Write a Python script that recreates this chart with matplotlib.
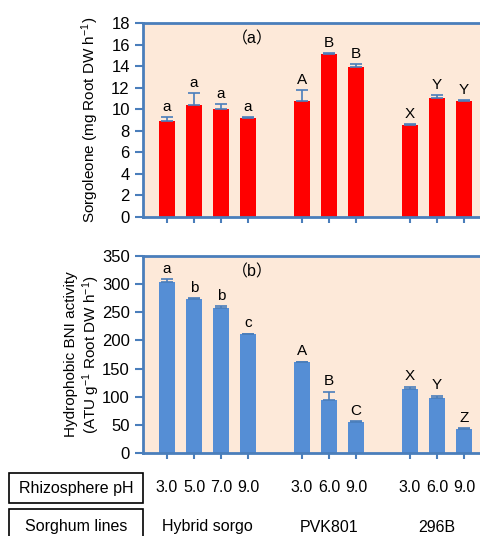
import matplotlib
matplotlib.use("Agg")
import matplotlib.pyplot as plt
import matplotlib.transforms as mtransforms
from matplotlib.patches import Rectangle

plt.rcParams['font.family'] = ['Liberation Sans', 'Noto Sans CJK JP', 'DejaVu Sans']
plt.rcParams['mathtext.fontset'] = 'custom'
plt.rcParams['mathtext.rm'] = 'Liberation Sans'
plt.rcParams['mathtext.default'] = 'regular'

# ---- data ----
positions = [0, 1, 2, 3, 5, 6, 7, 9, 10, 11]
ph_labels = ["3.0", "5.0", "7.0", "9.0", "3.0", "6.0", "9.0", "3.0", "6.0", "9.0"]
groups = ["Hybrid sorgo", "PVK801", "296B"]
group_members = [[0, 1, 2, 3], [5, 6, 7], [9, 10, 11]]

sorgoleone = [8.9, 10.4, 10.0, 9.2, 10.75, 15.1, 13.9, 8.5, 11.0, 10.75]
sorgoleone_err = [0.4, 1.1, 0.45, 0.1, 1.0, 0.1, 0.25, 0.1, 0.3, 0.1]
sorgoleone_letters = ["a", "a", "a", "a", "A", "B", "B", "X", "Y", "Y"]

bni = [303, 273, 258, 211, 161, 94, 55, 113, 97, 42]
bni_err = [6, 2, 3, 1, 1, 15, 2, 5, 5, 2]
bni_letters = ["a", "b", "b", "c", "A", "B", "C", "X", "Y", "Z"]

W, H = 481, 536
fig = plt.figure(figsize=(W / 100, H / 100), dpi=100)

spine_col = "#4a7ebb"
bg = "#fde9d9"

def make_ax(bottom_px, top_px, vals, errs, letters, color, ymax, ystep, label, tag, tag_y, letter_off):
    ax = fig.add_axes([143 / W, 1 - bottom_px / H, 1 - 143 / W, (bottom_px - top_px) / H])
    ax.set_facecolor(bg)
    ax.bar(positions, vals, width=0.6, color=color, zorder=2)
    ax.errorbar(positions, vals, yerr=[[0] * len(errs), errs], fmt="none",
                ecolor=spine_col, elinewidth=1.2, capsize=4, capthick=1.2, zorder=3)
    for x, v, e, l in zip(positions, vals, errs, letters):
        ax.text(x, v + e + letter_off, l, ha="center", va="bottom", fontsize=11)
    ax.set_xlim(-0.89, 11.63)
    ax.set_ylim(0, ymax)
    ax.set_yticks(range(0, ymax + 1, ystep))
    ax.set_xticks(positions)
    ax.set_xticklabels([])
    for s in ["top", "left", "bottom"]:
        ax.spines[s].set_color(spine_col)
        ax.spines[s].set_linewidth(2)
    ax.spines["right"].set_visible(False)
    ax.tick_params(axis="y", colors=spine_col, labelcolor="black", labelsize=12, length=6, width=1.5)
    ax.tick_params(axis="x", colors=spine_col, length=4, width=1.5)
    ax.set_ylabel(label, fontsize=11, linespacing=1.15)
    ax.text(3.15, tag_y, "（" + tag + "）", ha="center", va="center", fontsize=11.5)
    return ax

ax1 = make_ax(217, 23, sorgoleone, sorgoleone_err, sorgoleone_letters, "#ff0000", 18, 2,
              "Sorgoleone (mg Root DW h$^{-1}$)", "a", 16.5, 0.3)
ax2 = make_ax(453, 256, bni, bni_err, bni_letters, "#558ed5", 350, 50,
              "Hydrophobic BNI activity\n(ATU g$^{-1}$ Root DW h$^{-1}$)", "b", 322, 6)
ax1.yaxis.set_label_coords(-0.125, 0.5)
ax2.yaxis.set_label_coords(-0.12, 0.5)

# ---- table below ----
trans = mtransforms.blended_transform_factory(ax2.transData, fig.transFigure)
for x, l in zip(positions, ph_labels):
    fig.text(x, 1 - 488 / H, l, transform=trans, ha="center", va="center", fontsize=11.5)
for g, members in zip(groups, group_members):
    xc = (members[0] + members[-1]) / 2
    fig.text(xc, 1 - 527 / H, g, transform=trans, ha="center", va="center", fontsize=11.5)

for (y0, y1, txt) in [(473, 503, "Rhizosphere pH"), (509, 548, "Sorghum lines")]:
    fig.patches.append(Rectangle((9 / W, 1 - y1 / H), (143 - 9) / W, (y1 - y0) / H,
                                 transform=fig.transFigure, fill=False, edgecolor="black",
                                 linewidth=1.2, clip_on=False))
fig.text(76 / W, 1 - 488 / H, "Rhizosphere pH", ha="center", va="center", fontsize=11.5)
fig.text(76 / W, 1 - 527 / H, "Sorghum lines", ha="center", va="center", fontsize=11.5)

fig.savefig("out.png", dpi=100)
